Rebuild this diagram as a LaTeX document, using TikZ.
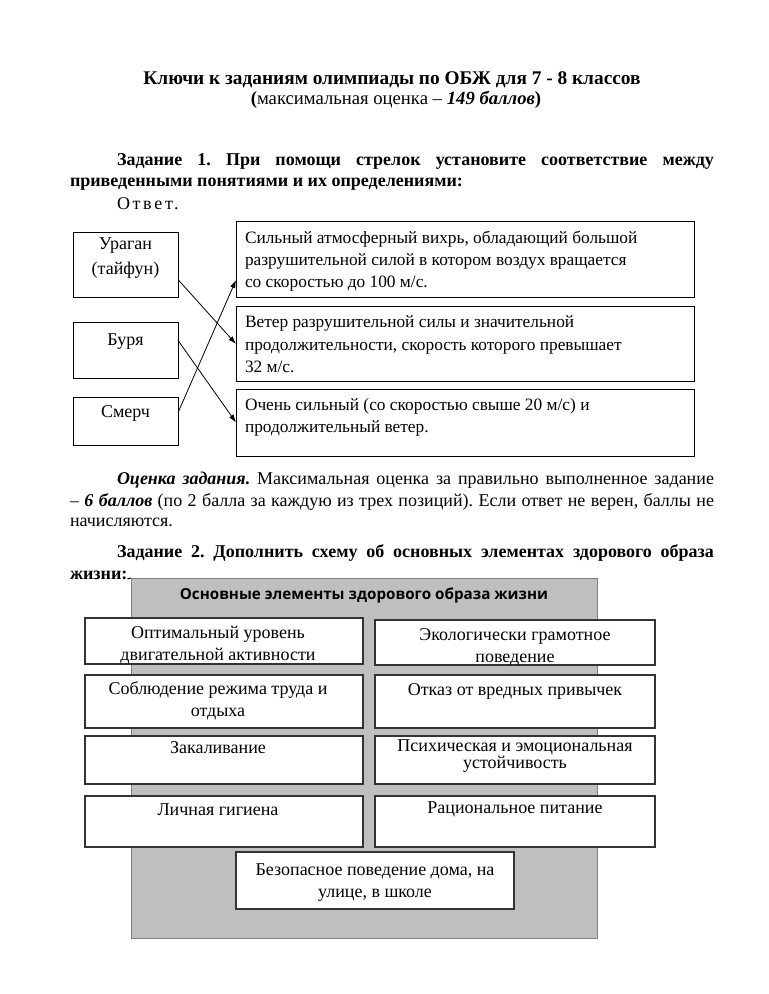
\documentclass[tikz,border=0pt]{standalone}
\usepackage{fontspec}
\setmainfont{Liberation Serif}
\newfontfamily\hdrfont{Open Sans}
\usetikzlibrary{arrows.meta,fit}
\begin{document}
\frenchspacing
\begin{tikzpicture}[x=0.75pt,y=-0.75pt,
  every node/.style={inner sep=0pt,outer sep=0pt},
  font=\fontsize{13.5}{16.5}\selectfont\frenchspacing,
  frame/.style={draw=black,line width=0.75pt,fit={#1},inner sep=0pt},
  cell/.style={draw=black!80,line width=1.1pt,fill=white,fit={#1},inner sep=0pt},
  txt/.style={anchor=base,align=center},
  desc/.style={anchor=base west,align=left,font=\fontsize{13}{16.5}\selectfont},
  arr/.style={line width=0.6pt,-{Latex[length=6pt,width=4pt]}}]
\useasboundingbox[fill=white] (0,0) rectangle (768,994);

% title
\node[anchor=base,font=\fontsize{14.5}{16}\selectfont] (t1) at (392,85) {\bfseries Ключи к заданиям олимпиады по ОБЖ для 7 - 8 классов};
\node[anchor=base,font=\fontsize{14}{16}\selectfont] (t2) at (396,105) {\textbf{(}максимальная оценка – \textbf{\textit{149 баллов}}\textbf{)}};

% task 1
\node[anchor=base west] (z1a) at (117,166) {\makebox[447.75pt][s]{\bfseries Задание 1. При помощи стрелок установите соответствие между}};
\node[anchor=base west] (z1b) at (70,187) {\bfseries приведенными понятиями и их определениями:};
\node[anchor=base west] (ans) at (117,210) {\addfontfeature{LetterSpace=15}Ответ.};

\node[frame={(73,233) (178,298)}] (ur) {};
\node[frame={(73,323) (178,378)}] (bu) {};
\node[frame={(73,397) (178,445)}] (sm) {};
\node[txt,font=\fontsize{13.5}{18.75}\selectfont] (urt) at (125.5,275) {Ураган\\(тайфун)};
\node[txt] (but) at (125.5,345) {Буря};
\node[txt] (smt) at (125.5,417) {Смерч};

\node[frame={(236,222) (694,298)}] (d1) {};
\node[frame={(236,307) (694,381)}] (d2) {};
\node[frame={(236,389) (694,456)}] (d3) {};
\node[desc] (d1t) at (245,288) {Сильный атмосферный вихрь, обладающий большой\\разрушительной силой в котором воздух вращается\\со скоростью до 100 м/с.};
\node[desc] (d2t) at (245,372) {Ветер разрушительной силы и значительной\\продолжительности, скорость которого превышает\\32 м/с.};
\node[desc] (d3t) at (245,432) {Очень сильный (со скоростью свыше 20 м/с) и\\продолжительный ветер.};

\draw[arr] (ur.-15) -- (d2.west);
\draw[arr] (bu.11) -- (d3.west);
\draw[arr] (sm.9) -- (d1.185);

% evaluation
\node[anchor=base west] (o1) at (117,484) {\makebox[447.75pt][s]{\textbf{\textit{Оценка задания.}} Максимальная оценка за правильно выполненное задание}};
\node[anchor=base west] (o2) at (70,506) {\makebox[483pt][s]{– \textbf{\textit{6 баллов}} (по 2 балла за каждую из трех позиций). Если ответ не верен, баллы не}};
\node[anchor=base west] (o3) at (70,526) {начисляются.};

% task 2
\node[anchor=base west] (z2a) at (117,557) {\makebox[447.75pt][s]{\bfseries Задание 2. Дополнить схему об основных элементах здорового образа}};
\node[anchor=base west] (z2b) at (70,579) {\bfseries жизни:};

\node[fit={(131,578) (597,938)},fill=black!25,draw=black!50,line width=0.75pt,inner sep=0pt] (gray) {};
\draw[line width=0.75pt] (z2b.base east) -- (gray.north west);
\node[anchor=base] (hdr) at (364,599) {\hdrfont\bfseries\fontsize{11.4}{13}\selectfont Основные элементы здорового образа жизни};

\node[cell={(85,618) (363,664)}] (c11) {};
\node[cell={(375,620) (655,665)}] (c12) {};
\node[cell={(85,675) (363,728)}] (c21) {};
\node[cell={(375,675) (655,728)}] (c22) {};
\node[cell={(85,736) (363,784)}] (c31) {};
\node[cell={(375,736) (655,784)}] (c32) {};
\node[cell={(85,796) (363,847)}] (c41) {};
\node[cell={(375,796) (655,847)}] (c42) {};
\node[cell={(236,852) (514,909)}] (c5) {};

\node[txt] (c11t) at (218,660) {Оптимальный уровень\\двигательной активности};
\node[txt] (c12t) at (515,662) {Экологически грамотное\\поведение};
\node[txt] (c21t) at (218,716) {Соблюдение режима труда и\\отдыха};
\node[txt] (c22t) at (515,695) {Отказ от вредных привычек};
\node[txt] (c31t) at (218,753) {Закаливание};
\node[txt,font=\fontsize{13.5}{12.75}\selectfont] (c32t) at (515,768) {Психическая и эмоциональная\\устойчивость};
\node[txt] (c41t) at (218,815) {Личная гигиена};
\node[txt] (c42t) at (515,813) {Рациональное питание};
\node[txt] (c5t) at (375,897) {Безопасное поведение дома, на\\улице, в школе};
\end{tikzpicture}
\end{document}
